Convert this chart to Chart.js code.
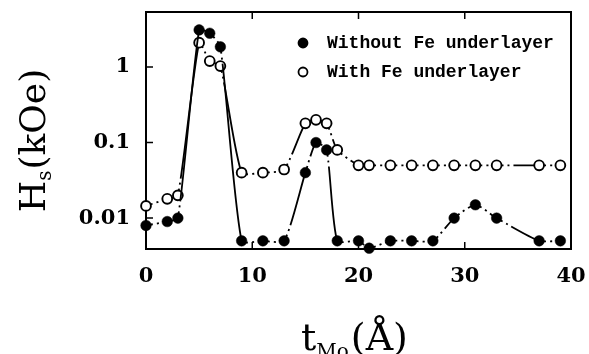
<!DOCTYPE html>
<html>
<head>
<meta charset="utf-8">
<script src="https://cdn.jsdelivr.net/npm/chart.js@4/dist/chart.umd.min.js"></script>
<style>
html,body{margin:0;padding:0;background:#fff;}
#wrap{width:589px;height:354px;position:relative;}
</style>
</head>
<body>
<div id="wrap"><canvas id="c" width="589" height="354"></canvas></div>
<script>
// ---- data ----
const tMo = [0, 2, 3, 5, 6, 7, 9, 11, 13, 15, 16, 17, 18, 20, 21, 23, 25, 27, 29, 31, 33, 37, 39];
const hsWithoutFe = [0.008, 0.009, 0.01, 3.1, 2.8, 1.85, 0.005, 0.005, 0.005, 0.04, 0.1, 0.08, 0.005, 0.005, 0.004, 0.005, 0.005, 0.005, 0.01, 0.015, 0.01, 0.005, 0.005];
const hsWithFe = [0.0145, 0.018, 0.02, 2.1, 1.2, 1.03, 0.04, 0.04, 0.044, 0.18, 0.2, 0.18, 0.08, 0.05, 0.05, 0.05, 0.05, 0.05, 0.05, 0.05, 0.05, 0.05, 0.05];
const seriesLabels = ['Without Fe underlayer', 'With Fe underlayer'];
const xTickValues = [0, 10, 20, 30, 40];
const xTickLabels = ['0', '10', '20', '30', '40'];
const yTickValues = [0.01, 0.1, 1];
const yTickLabels = ['0.01', '0.1', '1'];

const toPoints = (xs, ys) => xs.map((x, i) => ({x: x, y: ys[i]}));

// dash-dot look: short dash under marker, gap, dot, gap, then solid rest
function segDash(ctx) {
  const L = Math.hypot(ctx.p1.x - ctx.p0.x, ctx.p1.y - ctx.p0.y);
  return [7, 4, 2, 4, 2 * L + 50 + ctx.p0DataIndex, 0];
}

const decorations = {
  id: 'decorations',
  beforeDatasetsDraw(chart) {
    const {ctx, chartArea: a, scales} = chart;
    ctx.save();
    ctx.strokeStyle = '#000';
    // inward tick marks
    ctx.lineWidth = 1.5;
    ctx.beginPath();
    xTickValues.slice(1, -1).forEach(v => {
      const px = scales.x.getPixelForValue(v);
      ctx.moveTo(px, a.bottom); ctx.lineTo(px, a.bottom - 7);
      ctx.moveTo(px, a.top); ctx.lineTo(px, a.top + 7);
    });
    yTickValues.forEach(v => {
      const py = scales.y.getPixelForValue(v);
      ctx.moveTo(a.left, py); ctx.lineTo(a.left + 7, py);
    });
    ctx.stroke();
    // frame
    ctx.lineWidth = 2;
    ctx.strokeRect(a.left, a.top, a.right - a.left, a.bottom - a.top);
    ctx.restore();
  },
  afterDraw(chart) {
    const {ctx, chartArea: a} = chart;
    ctx.save();
    ctx.fillStyle = '#000';
    ctx.textBaseline = 'alphabetic';
    ctx.textAlign = 'left';
    const big = '36px "DejaVu Serif"';
    const small = '20px "DejaVu Serif"';

    // y-axis title: H_s(kOe), rotated
    ctx.save();
    ctx.font = big; const wH = ctx.measureText('H').width; const wR = ctx.measureText('(kOe)').width;
    ctx.font = small; const wS = ctx.measureText('s').width;
    const totY = wH + wS + 1 + wR;
    ctx.translate(45, (a.top + a.bottom) / 2 + 10);
    ctx.rotate(-Math.PI / 2);
    let x0 = -totY / 2;
    ctx.font = big; ctx.fillText('H', x0, 0); x0 += wH;
    ctx.font = small; ctx.fillText('s', x0, 6); x0 += wS + 1;
    ctx.font = big; ctx.fillText('(kOe)', x0, 0);
    ctx.restore();

    // x-axis title: t_Mo(Å)
    ctx.font = '38px "DejaVu Serif"'; const wt = ctx.measureText('t').width; const wA = ctx.measureText('(Å)').width;
    ctx.font = small; const wM = ctx.measureText('Mo').width;
    const totX = wt + wM + 2 + wA;
    let xx = (a.left + a.right) / 2 - totX / 2 - 4;
    const by = 350;
    ctx.font = '38px "DejaVu Serif"'; ctx.fillText('t', xx, by); xx += wt;
    ctx.font = small; ctx.fillText('Mo', xx, by + 8); xx += wM + 2;
    ctx.font = '38px "DejaVu Serif"'; ctx.fillText('(Å)', xx, by);

    // legend inside plot
    ctx.font = 'bold 18px "Liberation Mono"';
    chart.data.datasets.forEach((ds, i) => {
      const my = a.top + 31 + i * 29;
      const mx = a.left + 157;
      ctx.beginPath();
      ctx.arc(mx, my, 4.5, 0, Math.PI * 2);
      ctx.fillStyle = ds.pointBackgroundColor;
      ctx.fill();
      ctx.lineWidth = 1.8;
      ctx.strokeStyle = '#000';
      ctx.stroke();
      ctx.fillStyle = '#000';
      ctx.fillText(ds.label, a.left + 181, my + 4.5);
    });
    ctx.restore();
  }
};

const tickFont = {family: '"DejaVu Serif"', size: 21, weight: 'bold'};

new Chart(document.getElementById('c'), {
  type: 'scatter',
  data: {
    datasets: [
      {
        label: seriesLabels[0],
        data: toPoints(tMo, hsWithoutFe),
        showLine: true,
        borderColor: '#000',
        borderWidth: 1.8,
        tension: 0.2,
        pointRadius: 5.3,
        pointBorderWidth: 0.5,
        pointBackgroundColor: '#000',
        pointBorderColor: '#000',
        clip: 8,
        segment: {borderDash: segDash}
      },
      {
        label: seriesLabels[1],
        data: toPoints(tMo, hsWithFe),
        showLine: true,
        borderColor: '#000',
        borderWidth: 1.8,
        tension: 0.2,
        pointRadius: 4.9,
        pointBorderWidth: 1.9,
        pointBackgroundColor: '#fff',
        pointBorderColor: '#000',
        clip: 8,
        segment: {borderDash: segDash}
      }
    ]
  },
  options: {
    responsive: false,
    animation: false,
    devicePixelRatio: 1,
    layout: {padding: {top: 12, right: 18, bottom: 0, left: 0}},
    plugins: {legend: {display: false}, tooltip: {enabled: false}},
    scales: {
      x: {
        type: 'linear',
        min: 0, max: 40,
        afterBuildTicks: s => { s.ticks = xTickValues.map(v => ({value: v})); },
        afterFit: s => { s.height = 105; s.paddingLeft = 0; s.paddingRight = 0; },
        grid: {display: false, drawTicks: false},
        border: {display: false},
        ticks: {
          color: '#000', font: tickFont, padding: 15, maxRotation: 0, autoSkip: false,
          callback: v => xTickLabels[xTickValues.indexOf(v)]
        }
      },
      y: {
        type: 'logarithmic',
        min: 0.0039, max: 5.35,
        afterBuildTicks: s => { s.ticks = yTickValues.map(v => ({value: v})); },
        afterFit: s => { s.width = 146; s.paddingTop = 0; s.paddingBottom = 0; },
        grid: {display: false, drawTicks: false},
        border: {display: false},
        ticks: {
          color: '#000', font: tickFont, padding: 16, autoSkip: false,
          callback: v => yTickLabels[yTickValues.indexOf(v)]
        }
      }
    }
  },
  plugins: [decorations]
});
</script>
</body>
</html>
